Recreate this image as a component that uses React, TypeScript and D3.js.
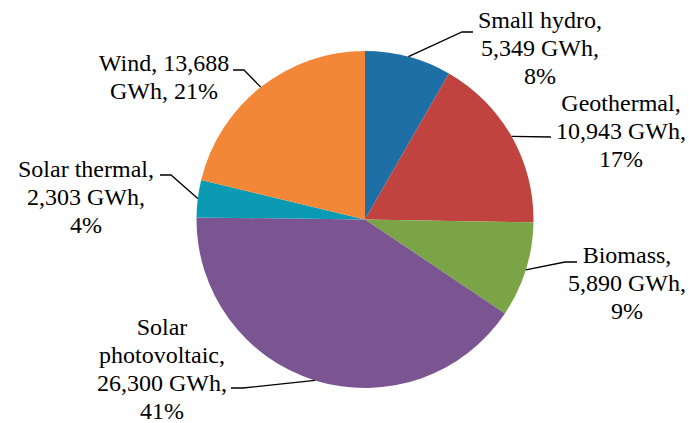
import React from "react";
import * as d3 from "d3";

const categories = ["Small hydro", "Geothermal", "Biomass", "Solar photovoltaic", "Solar thermal", "Wind"];
const values = [5349, 10943, 5890, 26300, 2303, 13688];
const percents = ["8%", "17%", "9%", "41%", "4%", "21%"];
const colors = ["#1f6fa7", "#c0433f", "#7ba446", "#7b5592", "#0b9ab3", "#f28837"];

const W = 689;
const H = 423;
const cx = 365;
const cy = 219.5;
const R = 168.5;
const fmt = d3.format(",");

function labelText(i: number): string[] {
  const v = `${fmt(values[i])} GWh,`;
  switch (i) {
    case 3:
      return ["Solar", "photovoltaic,", v, percents[i]];
    case 4:
      return ["Solar thermal,", v, percents[i]];
    case 5:
      return [`Wind, ${fmt(values[i])}`, `GWh, ${percents[i]}`];
    default:
      return [`${categories[i]},`, v, percents[i]];
  }
}

// layout: text center x, first line center y, leader elbow points (from label side toward pie)
const layout: { x: number; y: number; pts: [number, number][] }[] = [
  { x: 540, y: 20, pts: [[473, 32], [462, 32]] },
  { x: 621, y: 103, pts: [[551, 137]] },
  { x: 627, y: 255, pts: [[577, 262], [565, 262]] },
  { x: 162, y: 327, pts: [[231, 388], [243, 388]] },
  { x: 86, y: 169, pts: [[160, 175], [171, 175]] },
  { x: 164, y: 63, pts: [[233, 70], [244, 70]] },
];

const lineH = 28;

export default function App() {
  const pie = d3.pie<number>().sort(null).value((d) => d).startAngle(0).endAngle(2 * Math.PI);
  const arcs = pie(values);
  const arc = d3.arc<d3.PieArcDatum<number>>().innerRadius(0).outerRadius(R);

  return (
    <svg width={W} height={H} style={{ position: "absolute", left: 0, top: 0, background: "#fff" }}>
      <style>{`.lbl, .lbl tspan { font-family: "Liberation Serif" !important; font-size: 24px; }`}</style>
      <g transform={`translate(${cx},${cy})`}>
        {arcs.map((a, i) => (
          <path key={i} d={arc(a) || ""} fill={colors[i]} />
        ))}
      </g>
      {arcs.map((a, i) => {
        const mid = (a.startAngle + a.endAngle) / 2;
        const pts: [number, number][] = [...layout[i].pts, [cx + R * Math.sin(mid), cy - R * Math.cos(mid)]];
        return <path key={i} d={d3.line()(pts) || ""} fill="none" stroke="#000" strokeWidth={1.3} />;
      })}
      {categories.map((c, i) =>
        labelText(i).map((t, j) => (
          <text
            key={`${c}-${j}`}
            className="lbl"
            x={layout[i].x}
            y={layout[i].y + j * lineH + 8}
            textAnchor="middle"
            fill="#000"
            fontFamily="Liberation Serif"
            fontSize={24}
          >
            {t}
          </text>
        ))
      )}
    </svg>
  );
}
